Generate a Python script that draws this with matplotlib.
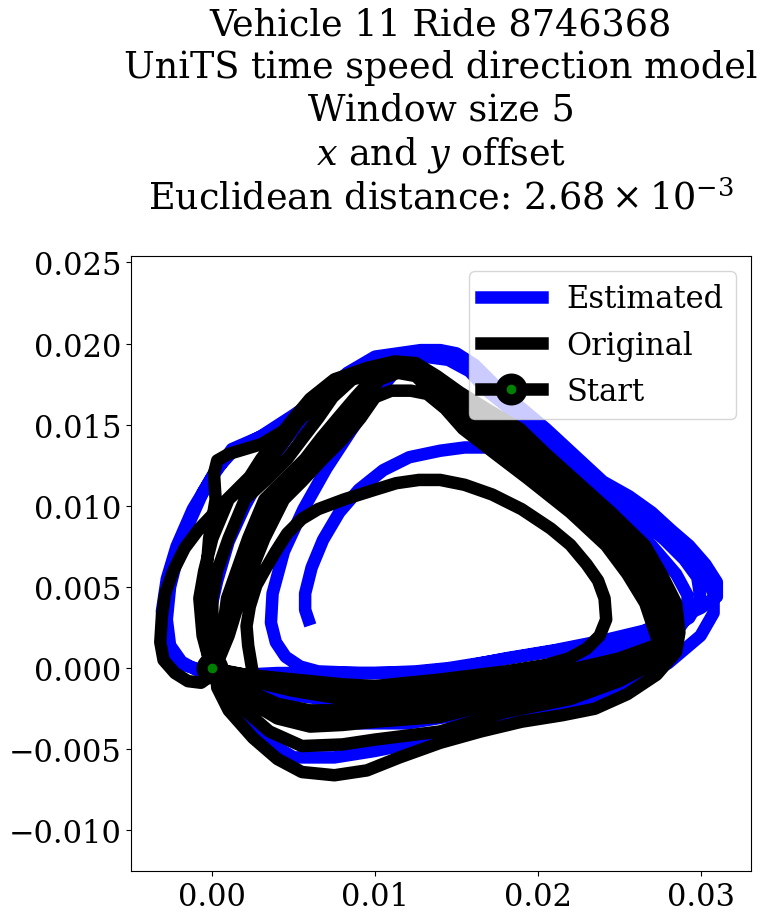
import numpy as np
import matplotlib
matplotlib.use("Agg")
import matplotlib.pyplot as plt

plt.rcParams['font.family'] = 'DejaVu Serif'
plt.rcParams['mathtext.fontset'] = 'dejavuserif'

# trajectory waypoints, in units of 1e-3
# estimated (blue) laps
est_x1 = [0.0, 1.5, 3.5, 6.0, 9.0, 12.0, 15.0, 18.0, 21.0, 24.0, 26.5, 28.3, 29.2,
          29.2, 28.5, 27.0, 25.0, 23.0, 21.4, 19.4, 18.0, 17.0, 15.8, 14.5, 13.0,
          11.0, 9.0, 7.0, 5.0, 3.0, 1.2, 0.2,
          -0.6, -1.4, -2.1, -2.6, -2.8, -2.6, -1.9, -1.0, 0.0]
est_y1 = [0.0, -1.2, -2.3, -3.0, -3.4, -3.4, -2.9, -2.1, -1.2, -0.2, 0.8, 1.9, 3.2,
          4.5, 5.8, 7.55, 9.6, 11.3, 12.8, 14.75, 16.2, 17.0, 18.3, 19.0, 19.2,
          19.0, 18.3, 17.0, 15.6, 14.3, 13.3, 12.2,
          10.8, 9.0, 7.0, 5.0, 3.0, 1.4, 0.4, -0.1, -0.3]
est_x2 = [2.0, 4.0, 7.0, 10.0, 12.5, 14.5, 17.0, 20.0, 23.0, 25.5, 28.0, 30.0, 31.0,
          31.0, 30.3, 29.3, 28.2, 27.0, 25.6, 24.0, 22.6, 20.5, 18.9, 17.4, 16.1, 15.0, 14.0, 12.8,
          10.0, 8.3, 6.0, 3.5, 1.2, 0.0,
          -1.2, -2.2, -2.8, -3.1, -3.0, -2.6, -1.8, -0.7, 0.5]
est_y2 = [-0.4, -0.3, -0.3, -0.3, -0.2, 0.0, 0.4, 0.9, 1.4, 1.9, 2.8, 3.7, 4.4,
          5.3, 6.4, 7.55, 8.5, 9.6, 10.6, 11.5, 12.8, 14.75, 16.1, 17.4, 18.7, 19.4, 19.6, 19.6,
          19.2, 18.2, 16.2, 14.5, 13.5, 11.8,
          9.8, 7.5, 5.5, 3.5, 2.0, 0.9, 0.2, -0.1, -0.3]
est_x3 = [1.0, 2.0, 3.5, 5.0, 7.5, 10.0, 13.0, 17.0, 21.0, 25.0, 28.0, 30.0, 30.8,
          30.8, 30.2, 28.6, 26.6, 24.5, 23.1, 21.5, 19.9, 18.5, 17.2, 16.0, 14.8, 13.5, 12.0,
          10.0, 8.0, 6.2, 4.6, 3.2, 2.0,
          1.0, 0.3, -0.2, -0.4, 0.0]
est_y3 = [-1.8, -3.2, -4.6, -5.5, -5.5, -5.1, -4.5, -3.6, -2.6, -1.3, 0.3, 2.0, 3.4,
          4.6, 5.9, 7.55, 9.2, 10.6, 11.67, 13.2, 14.75, 16.0, 17.2, 18.4, 19.2, 19.4, 19.3,
          18.8, 17.6, 16.0, 14.2, 12.2, 10.0,
          7.8, 5.4, 3.2, 1.5, 0.3]
est_x4 = [2.0, 4.5, 7.5, 10.5, 13.5, 16.5, 19.5, 22.5, 25.0, 27.5, 29.3, 30.0,
          29.8, 29.0, 27.8, 26.2, 24.4, 22.8, 21.0, 19.6, 18.3, 17.0, 15.6, 14.3, 12.8,
          11.5, 10.0, 8.5, 7.0, 5.6, 4.4, 3.7, 3.6, 3.9, 4.5, 5.4, 6.5,
          9.0, 12.0, 15.0, 18.0, 21.0, 24.0, 26.5, 28.5,
          28.0, 26.9, 25.5, 23.8, 22.0, 20.3, 18.6, 17.0, 15.5, 14.0, 12.1, 10.5, 9.0, 7.8, 6.8,
          6.1, 5.7, 5.7, 5.9]
est_y4 = [-0.9, -1.6, -2.0, -2.1, -1.8, -1.1, -0.3, 0.5, 1.1, 2.0, 3.1, 4.3,
          5.6, 6.7, 7.9, 9.3, 10.6, 11.67, 13.2, 14.75, 16.0, 17.3, 18.6, 19.3, 19.2,
          18.6, 16.8, 14.6, 12.3, 9.8, 7.2, 4.6, 2.8, 1.6, 0.7, 0.1, -0.2,
          -0.3, -0.3, 0.0, 0.6, 1.1, 1.7, 2.3, 3.1,
          4.2, 5.6, 7.3, 9.0, 10.6, 11.9, 13.0, 13.6, 13.6, 13.4, 13.0, 12.2, 11.0, 9.6, 7.9,
          6.2, 4.6, 3.6, 3.0]

# original (black) laps
orig_x1 = [0.0, 2.0, 5.0, 8.0, 10.0, 14.0, 18.0, 22.0, 25.0, 27.5, 28.2,
           27.7, 26.7, 25.6, 23.5, 21.1, 19.2, 17.5, 15.8, 14.5, 13.3, 12.0,
           10.3, 8.5, 6.8, 5.0, 3.0, 1.0, 0.3, 0.1,
           0.2, -0.2, -0.5, -0.5, -0.2]
orig_y1 = [0.0, -0.4, -1.0, -1.4, -1.5, -1.4, -0.8, -0.1, 0.6, 1.5, 2.8,
           4.0, 5.8, 7.55, 9.6, 11.67, 13.2, 14.75, 16.0, 17.0, 18.0, 18.6,
           18.5, 17.8, 16.6, 15.0, 13.8, 13.2, 12.8, 12.0,
           10.4, 8.0, 4.3, 2.0, 0.5]
orig_x2 = [0.8, 2.0, 4.0, 6.0, 8.0, 10.0, 14.0, 18.0, 22.0, 25.0, 27.3, 28.3,
           27.4, 26.4, 25.3, 23.1, 20.7, 18.7, 17.0, 15.4, 14.2, 13.0, 11.8,
           10.0, 8.0, 6.6, 5.4, 4.5, 3.6, 2.3, 1.0, 0.0, -0.5, -0.8, -0.6, -0.2]
orig_y2 = [-0.9, -1.9, -3.1, -3.6, -3.5, -3.3, -3.0, -2.0, -1.2, -0.4, 0.8, 2.1,
           4.0, 5.8, 7.55, 9.6, 11.67, 13.2, 14.75, 16.0, 17.0, 18.0, 18.5,
           18.3, 17.8, 16.6, 15.4, 14.1, 12.9, 11.6, 10.4, 8.0, 6.0, 4.3, 2.0, 0.5]
orig_x3 = [0.8, 2.0, 4.0, 6.0, 8.0, 10.0, 14.0, 18.0, 22.0, 25.0, 27.0, 27.9,
           27.2, 26.1, 24.9, 22.8, 20.3, 18.3, 16.4, 15.0, 13.9, 12.8, 11.6,
           10.2, 8.6, 7.4, 6.5, 5.5, 4.6, 3.3, 2.0, 1.0, 0.3, 0.0, 0.0, 0.2]
orig_y3 = [-0.6, -1.3, -2.2, -2.6, -2.6, -2.5, -2.3, -1.4, -0.6, 0.0, 1.0, 2.2,
           4.0, 5.8, 7.55, 9.6, 11.67, 13.2, 14.75, 16.0, 17.0, 18.0, 18.3,
           18.2, 17.8, 16.7, 15.4, 14.1, 12.9, 11.6, 10.4, 8.0, 6.0, 4.3, 2.0, 0.3]
orig_x4 = [0.8, 2.0, 4.0, 6.0, 8.0, 10.0, 14.0, 18.0, 22.0, 25.0, 26.8, 27.4,
           26.6, 25.5, 24.2, 22.0, 19.4, 17.4, 15.4, 14.3, 13.2, 12.2, 11.0,
           10.0, 9.1, 8.0, 6.8, 5.5, 4.4, 3.2, 2.4, 1.7, 1.0, 0.3]
orig_y4 = [-0.8, -1.6, -2.7, -3.1, -3.05, -3.0, -2.7, -1.7, -0.9, -0.2, 0.6, 1.6,
           4.0, 5.8, 7.55, 9.6, 11.67, 13.2, 14.75, 16.0, 16.9, 17.1, 17.1,
           16.7, 15.4, 14.1, 12.9, 11.5, 10.4, 8.0, 6.0, 4.3, 2.0, 0.3]
orig_x5 = [0.8, 2.0, 3.5, 5.5, 8.0, 10.0, 14.0, 18.0, 22.0, 25.0, 27.5, 28.6,
           28.1, 27.2, 26.1, 24.0, 21.6, 19.9, 18.2, 16.3, 14.9, 13.5, 12.3, 11.2,
           9.8, 8.8, 7.7, 6.7, 5.7, 4.4, 3.2, 2.2, 0.9, 0.6, 0.2]
orig_y5 = [-1.2, -2.6, -3.9, -4.8, -4.7, -4.4, -3.9, -2.7, -1.9, -0.8, 0.5, 1.8,
           4.0, 5.8, 7.55, 9.6, 11.67, 13.2, 14.75, 16.0, 17.0, 18.0, 18.4, 18.4,
           17.8, 16.7, 15.4, 14.2, 12.9, 11.6, 10.4, 8.0, 4.3, 2.0, 0.3]
orig_x6 = [0.3, 1.0, 2.5, 4.0, 5.5, 7.5, 9.5, 11.5, 14.0, 16.5, 19.0, 21.5, 23.5, 25.5, 27.3, 28.5, 28.7,
           28.5, 27.6, 26.6, 24.5, 22.2, 20.5, 18.9, 16.8, 15.2, 13.8, 12.5, 11.2,
           9.5, 7.5, 6.0, 5.0, 3.0, 2.3, 0.9, -0.8,
           -1.7, -2.4, -2.9, -3.1, -3.2, -3.0, -2.3, -1.5, -0.7, 0.0]
orig_y6 = [-1.2, -2.6, -4.3, -5.6, -6.4, -6.6, -6.3, -5.5, -4.6, -3.9, -3.3, -2.9, -2.5, -1.6, -0.4, 1.0, 2.2,
           4.0, 5.8, 7.55, 9.6, 11.67, 13.2, 14.75, 16.0, 17.0, 18.0, 18.8, 18.9,
           18.5, 17.8, 16.6, 15.4, 12.9, 11.8, 10.4, 8.6,
           7.4, 6.0, 4.6, 3.2, 1.6, 0.5, -0.3, -0.8, -0.9, -0.4]
orig_x7 = [0.8, 2.0, 5.0, 8.0, 10.0, 14.0, 18.0, 22.0, 25.0, 27.3, 28.0,
           26.9, 25.8, 24.5, 22.4, 19.8, 17.8, 15.9, 14.6, 13.5, 12.5, 11.4,
           10.3, 9.3, 8.4, 7.3, 6.2, 5.0, 3.8, 2.8, 2.0, 1.3, 0.8, 0.3]
orig_y7 = [-0.5, -0.7, -1.4, -1.9, -2.0, -1.8, -1.0, -0.3, 0.3, 1.3, 2.4,
           4.0, 5.8, 7.55, 9.6, 11.67, 13.2, 14.75, 16.0, 17.0, 18.0, 18.2,
           17.8, 16.6, 15.4, 14.1, 12.9, 11.6, 10.4, 8.0, 6.0, 4.3, 2.0, 0.3]
orig_x8 = [0.8, 2.0, 5.0, 8.0, 10.0, 14.0, 18.0, 20.5, 21.9, 23.0, 23.8, 24.2, 24.1, 23.7, 23.0,
           22.0, 20.8, 19.0, 17.2, 15.5, 14.0, 12.7, 11.3, 10.0, 8.1, 6.5, 5.5, 4.6, 3.9, 3.2,
           2.7, 2.3, 2.1, 2.2, 2.4]
orig_y8 = [-0.2, -0.4, -0.7, -1.0, -1.1, -0.7, -0.2, 0.2, 0.6, 1.2, 2.0, 3.0, 4.3, 5.4, 6.4,
           7.6, 8.6, 9.8, 10.7, 11.3, 11.6, 11.6, 11.4, 11.0, 10.4, 9.8, 9.2, 8.3, 7.2, 6.0,
           5.1, 3.8, 2.6, 1.4, 0.2]

est_x = np.array(est_x1 + est_x2 + est_x3 + est_x4) * 1e-3
est_y = np.array(est_y1 + est_y2 + est_y3 + est_y4) * 1e-3
orig_x = np.array(orig_x1 + orig_x2 + orig_x3 + orig_x7 + orig_x4 + orig_x5 + orig_x6 + orig_x8) * 1e-3
orig_y = np.array(orig_y1 + orig_y2 + orig_y3 + orig_y7 + orig_y4 + orig_y5 + orig_y6 + orig_y8) * 1e-3

title = ("Vehicle 11 Ride 8746368\nUniTS time speed direction model\nWindow size 5\n"
         "$x$ and $y$ offset\nEuclidean distance: $2.68\\times10^{-3}$")

fig = plt.figure(figsize=(7.73, 9.2), dpi=100)
ax = fig.add_axes([131 / 773, 48 / 920, 620 / 773, 615 / 920])

ax.plot(est_x, est_y, color='blue', linewidth=9, label='Estimated')
ax.plot(orig_x, orig_y, color='black', linewidth=9, label='Original')
ax.plot(orig_x[:1], orig_y[:1], color='black', linewidth=9, marker='o', markersize=15,
        markerfacecolor='green', markeredgecolor='black', markeredgewidth=8, label='Start')

ax.set_xlim(-0.005, 0.0331)
ax.set_ylim(-0.0125, 0.0254)
ax.set_xticks([0.0, 0.01, 0.02, 0.03])
ax.set_yticks([-0.01, -0.005, 0.0, 0.005, 0.01, 0.015, 0.02, 0.025])
ax.tick_params(labelsize=22)
ax.set_title(title, fontsize=26.3, pad=34, linespacing=1.22)
ax.legend(loc='upper right', fontsize=22)

fig.savefig('out.png', dpi=100)
